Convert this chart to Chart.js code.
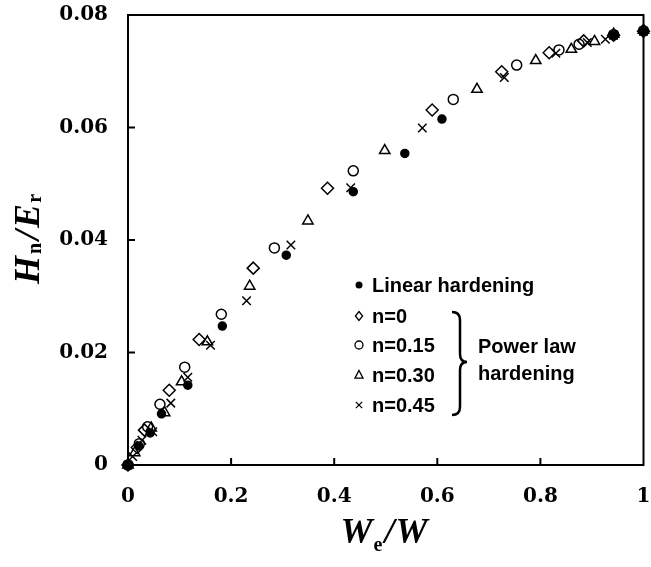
<!DOCTYPE html>
<html>
<head>
<meta charset="utf-8">
<script src="https://cdn.jsdelivr.net/npm/chart.js@4.4.0/dist/chart.umd.min.js"></script>
<style>
  html, body { margin: 0; padding: 0; background: #fff; }
</style>
</head>
<body>
<canvas id="chart" width="651" height="567"></canvas>
<script>
// ticks
const xTicks = [0, 0.2, 0.4, 0.6, 0.8, 1];
const xTickLabels = ['0', '0.2', '0.4', '0.6', '0.8', '1'];
const yTicks = [0, 0.02, 0.04, 0.06, 0.08];
const yTickLabels = ['0', '0.02', '0.04', '0.06', '0.08'];

// series (We/W , Hn/Er)
const linearX = [0, 0.021, 0.043, 0.065, 0.116, 0.183, 0.307, 0.437, 0.537, 0.609, 0.942, 1.0];
const linearY = [0, 0.0034, 0.0057, 0.0091, 0.0142, 0.0247, 0.0373, 0.0486, 0.0554, 0.0615, 0.0763, 0.0770];
const n0X = [0, 0.018, 0.032, 0.080, 0.138, 0.243, 0.387, 0.590, 0.725, 0.817, 0.884, 0.942, 1.0];
const n0Y = [0, 0.0031, 0.0062, 0.0133, 0.0223, 0.0350, 0.0492, 0.0631, 0.0699, 0.0733, 0.0754, 0.0764, 0.0771];
const n015X = [0, 0.022, 0.038, 0.062, 0.110, 0.181, 0.284, 0.437, 0.631, 0.754, 0.836, 0.875, 0.942, 1.0];
const n015Y = [0, 0.0038, 0.0068, 0.0108, 0.0174, 0.0268, 0.0386, 0.0523, 0.0650, 0.0711, 0.0738, 0.0748, 0.0765, 0.0772];
const n030X = [0, 0.013, 0.045, 0.071, 0.104, 0.154, 0.236, 0.349, 0.498, 0.677, 0.791, 0.860, 0.905, 0.942, 1.0];
const n030Y = [0, 0.0022, 0.0066, 0.0093, 0.0148, 0.0219, 0.0318, 0.0434, 0.0559, 0.0668, 0.0719, 0.0739, 0.0753, 0.0766, 0.0773];
const n045X = [0, 0.009, 0.027, 0.048, 0.083, 0.116, 0.160, 0.230, 0.316, 0.432, 0.571, 0.730, 0.830, 0.891, 0.926, 0.942, 1.0];
const n045Y = [0, 0.0015, 0.0044, 0.0059, 0.0110, 0.0156, 0.0213, 0.0292, 0.0391, 0.0493, 0.0599, 0.0689, 0.0732, 0.0751, 0.0757, 0.0764, 0.0771];

const pts = (xs, ys) => xs.map((x, i) => ({ x, y: ys[i] }));

function series(label, xs, ys, style, radius, filled){
  return {
    label,
    data: pts(xs, ys),
    pointStyle: style,
    pointRadius: radius,
    pointBorderWidth: 1.5,
    pointBorderColor: '#000',
    pointBackgroundColor: filled ? '#000' : 'rgba(0,0,0,0)',
    showLine: false,
    clip: false
  };
}

const datasets = [
  series('Linear hardening', linearX, linearY, 'circle', 4, true),
  series('n=0', n0X, n0Y, 'rectRot', 6, false),
  series('n=0.15', n015X, n015Y, 'circle', 5, false),
  series('n=0.30', n030X, n030Y, 'triangle', 6, false),
  series('n=0.45', n045X, n045Y, 'crossRot', 6, false)
];

// small marker for the legend, drawn by hand
function marker(ctx, style, x, y, r){
  ctx.beginPath();
  if (style === 'dot') { ctx.arc(x, y, r, 0, Math.PI*2); ctx.fill(); return; }
  if (style === 'circle') ctx.arc(x, y, r, 0, Math.PI*2);
  if (style === 'diamond') { ctx.moveTo(x, y-r); ctx.lineTo(x+r*0.8, y); ctx.lineTo(x, y+r); ctx.lineTo(x-r*0.8, y); ctx.closePath(); }
  if (style === 'triangle') { ctx.moveTo(x, y-r); ctx.lineTo(x+r*0.9, y+r*0.7); ctx.lineTo(x-r*0.9, y+r*0.7); ctx.closePath(); }
  if (style === 'cross') { ctx.moveTo(x-r*0.7, y-r*0.7); ctx.lineTo(x+r*0.7, y+r*0.7); ctx.moveTo(x+r*0.7, y-r*0.7); ctx.lineTo(x-r*0.7, y+r*0.7); }
  ctx.stroke();
}

const decor = {
  id: 'decor',
  afterDraw(chart){
    const { ctx, chartArea: a, scales } = chart;
    ctx.save();
    ctx.strokeStyle = '#000';
    ctx.fillStyle = '#000';

    // frame + inward ticks
    ctx.lineWidth = 2;
    ctx.strokeRect(a.left, a.top, a.right - a.left, a.bottom - a.top);
    ctx.beginPath();
    xTicks.slice(1, -1).forEach(v => {
      const px = scales.x.getPixelForValue(v);
      ctx.moveTo(px, a.bottom); ctx.lineTo(px, a.bottom - 7);
    });
    yTicks.slice(1, -1).forEach(v => {
      const py = scales.y.getPixelForValue(v);
      ctx.moveTo(a.left, py); ctx.lineTo(a.left + 7, py);
    });
    ctx.stroke();

    // legend
    const rows = [
      ['dot', 3.5, 'Linear hardening', 285],
      ['diamond', 4.5, 'n=0', 316],
      ['circle', 4, 'n=0.15', 345],
      ['triangle', 4.5, 'n=0.30', 375],
      ['cross', 4.5, 'n=0.45', 405]
    ];
    ctx.lineWidth = 1.3;
    ctx.font = 'bold 20px "Liberation Sans", Arial, sans-serif';
    ctx.textBaseline = 'middle';
    ctx.textAlign = 'left';
    rows.forEach(([st, r, txt, y]) => {
      marker(ctx, st, 359, y, r);
      ctx.fillText(txt, 372, y + 1);
    });

    // brace
    ctx.lineWidth = 2.5;
    ctx.beginPath();
    ctx.moveTo(452, 312);
    ctx.quadraticCurveTo(460, 312, 460, 320);
    ctx.lineTo(460, 354);
    ctx.quadraticCurveTo(460, 362, 467, 362);
    ctx.quadraticCurveTo(460, 362, 460, 370);
    ctx.lineTo(460, 407);
    ctx.quadraticCurveTo(460, 415, 452, 415);
    ctx.stroke();
    ctx.fillText('Power law', 478, 347);
    ctx.fillText('hardening', 478, 374);

    // axis titles
    const big = 'italic bold 36px "Liberation Serif", "Times New Roman", serif';
    const small = 'bold 20px "Liberation Serif", "Times New Roman", serif';
    const parts = (list) => list.map(([t, f, dy, gap]) => {
      ctx.font = f;
      return { t, f, dy, gap, w: ctx.measureText(t).width };
    });
    const drawRun = (list, cx, base) => {
      const p = parts(list);
      const total = p.reduce((s, q) => s + q.w + q.gap, 0);
      let x = cx - total / 2;
      ctx.textBaseline = 'alphabetic';
      p.forEach(q => {
        ctx.font = q.f;
        ctx.fillText(q.t, x, base + q.dy);
        x += q.w + q.gap;
      });
    };

    drawRun([['W', big, 0, 1], ['e', small, 8, 2], ['/', big, 0, 1], ['W', big, 0, 0]], 384, 543);

    ctx.save();
    ctx.translate(39, 239);
    ctx.rotate(-Math.PI / 2);
    drawRun([['H', big, 0, 2], ['n', small, 2, 3], ['/', big, 0, 2], ['E', big, 0, 1], ['r', small, 2, 0]], 0, 0);
    ctx.restore();

    ctx.restore();
  }
};

const tickFont = { family: '"DejaVu Serif", serif', weight: 'bold', size: 20 };

new Chart(document.getElementById('chart'), {
  type: 'scatter',
  data: { datasets },
  options: {
    responsive: false,
    animation: false,
    devicePixelRatio: 1,
    layout: { padding: { top: 15, right: 5, left: 0, bottom: 0 } },
    plugins: { legend: { display: false }, tooltip: { enabled: false } },
    scales: {
      x: {
        type: 'linear', min: 0, max: 1,
        afterBuildTicks: s => { s.ticks = xTicks.map(v => ({ value: v })); },
        afterFit: s => { s.height = 102; s.paddingLeft = 0; s.paddingRight = 0; },
        ticks: {
          color: '#000', font: tickFont, padding: 20, maxRotation: 0, autoSkip: false,
          callback: (v, i) => xTickLabels[i]
        },
        grid: { display: false, drawTicks: false },
        border: { display: true, color: '#000', width: 2 }
      },
      y: {
        type: 'linear', min: 0, max: 0.08,
        afterBuildTicks: s => { s.ticks = yTicks.map(v => ({ value: v })); },
        afterFit: s => { s.width = 128; s.paddingTop = 0; s.paddingBottom = 0; },
        ticks: {
          color: '#000', font: tickFont, padding: 20, autoSkip: false,
          callback: (v, i) => yTickLabels[i]
        },
        grid: { display: false, drawTicks: false },
        border: { display: true, color: '#000', width: 2 }
      }
    }
  },
  plugins: [decor]
});
</script>
</body>
</html>
